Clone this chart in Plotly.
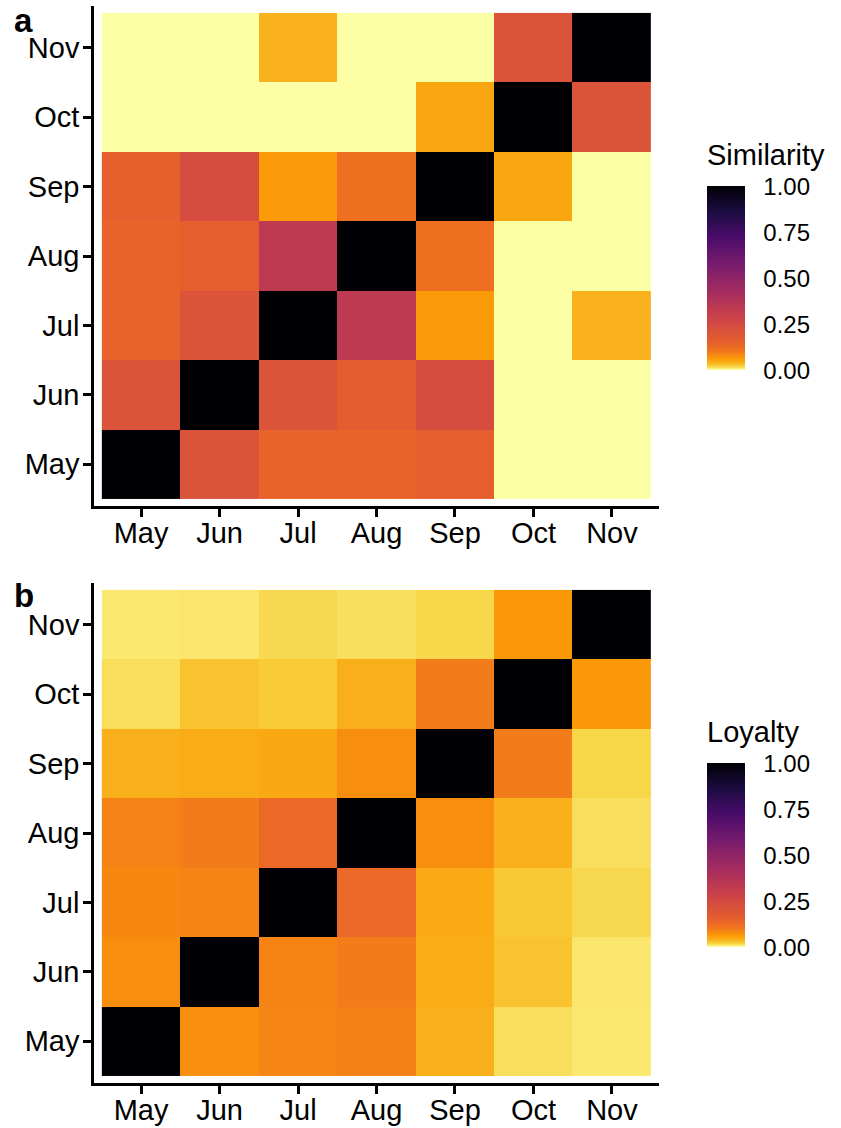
import plotly.graph_objects as go

months = ["May", "Jun", "Jul", "Aug", "Sep", "Oct", "Nov"]

# rows = y (May..Nov bottom to top), columns = x (May..Nov)
similarity = [
    [1.00, 0.207, 0.142, 0.142, 0.157, 0.00, 0.00],    # May
    [0.207, 1.00, 0.207, 0.164, 0.236, 0.00, 0.00],    # Jun
    [0.142, 0.207, 1.00, 0.333, 0.0625, 0.00, 0.0386], # Jul
    [0.142, 0.157, 0.333, 1.00, 0.117, 0.00, 0.00],    # Aug
    [0.150, 0.236, 0.0625, 0.117, 1.00, 0.050, 0.00],  # Sep
    [0.00, 0.00, 0.00, 0.00, 0.050, 1.00, 0.207],      # Oct
    [0.00, 0.00, 0.0386, 0.00, 0.00, 0.207, 1.00],     # Nov
]

loyalty = [
    [1.00, 0.075, 0.086, 0.090, 0.0415, 0.0145, 0.010],  # May
    [0.075, 1.00, 0.0875, 0.095, 0.0445, 0.029, 0.011],  # Jun
    [0.082, 0.0875, 1.00, 0.129, 0.046, 0.025, 0.017],   # Jul
    [0.089, 0.095, 0.129, 1.00, 0.0755, 0.040, 0.0145],  # Aug
    [0.041, 0.0445, 0.0475, 0.0755, 1.00, 0.095, 0.018], # Sep
    [0.0145, 0.029, 0.024, 0.041, 0.095, 1.00, 0.065],   # Oct
    [0.010, 0.011, 0.017, 0.014, 0.0175, 0.0655, 1.00],  # Nov
]

cbar_ticks = [0.0, 0.25, 0.5, 0.75, 1.0]
cbar_ticktext = ["0.00", "0.25", "0.50", "0.75", "1.00"]

# ---- colour scale: reversed inferno, stretched towards low values ----
INFERNO = ["#000004", "#1b0c41", "#4a0c6b", "#781c6d", "#a52c60",
           "#cf4446", "#ed6925", "#fb9b06", "#f7d13d", "#fcffa4"]
# value -> position along inferno (0 = black, 1 = pale yellow)
MAP_V = [0.0, 0.02, 0.04, 0.065, 0.10, 0.15, 0.25, 0.50, 0.75, 1.0]
MAP_P = [1.0, 0.89, 0.82, 0.77, 0.70, 0.64, 0.57, 0.39, 0.20, 0.0]


def _hex(c):
    return tuple(int(c[i:i + 2], 16) for i in (1, 3, 5))


def _interp(x, xs, ys):
    for i in range(len(xs) - 1):
        if xs[i] <= x <= xs[i + 1]:
            t = (x - xs[i]) / (xs[i + 1] - xs[i]) if xs[i + 1] != xs[i] else 0
            return ys[i] + t * (ys[i + 1] - ys[i])
    return ys[-1]


def inferno(p):
    n = len(INFERNO) - 1
    f = min(max(p, 0), 1) * n
    i = min(int(f), n - 1)
    t = f - i
    a, b = _hex(INFERNO[i]), _hex(INFERNO[i + 1])
    r, g, bl = (round(a[k] + t * (b[k] - a[k])) for k in range(3))
    return f"rgb({r},{g},{bl})"


colorscale = []
for k in range(201):
    v = k / 200
    colorscale.append([v, inferno(_interp(v, MAP_V, MAP_P))])

W, H = 841, 1128
FONT = "Liberation Sans, Arial, Helvetica, sans-serif"


def py(px):
    return 1 - px / H


def px_x(px):
    return px / W


# layout geometry (pixels)
x_dom = [px_x(94), px_x(659)]
a_dom = [py(506), py(6)]
b_dom = [py(1083), py(583)]
cb_left = 707
cb_thick = 38
cb_len = 184
cb_a_center = 278.5
cb_b_center = 855.5

fig = go.Figure()


def add_heat(z, xa, ya, cb_center):
    fig.add_trace(go.Heatmap(
        z=z, x=months, y=months, xaxis=xa, yaxis=ya,
        colorscale=colorscale, zmin=0, zmax=1,
        hoverongaps=False,
        colorbar=dict(
            x=px_x(cb_left), xanchor="left", xpad=0, ypad=0,
            y=py(cb_center), yanchor="middle",
            lenmode="pixels", len=cb_len, thickness=cb_thick,
            outlinewidth=0,
            tickmode="array", tickvals=cbar_ticks, ticktext=cbar_ticktext,
            ticks="outside", ticklen=14, tickwidth=1, tickcolor="rgba(0,0,0,0)",
            tickfont=dict(family=FONT, size=24, color="black"),
        ),
    ))


add_heat(similarity, "x", "y", cb_a_center)
add_heat(loyalty, "x2", "y2", cb_b_center)

axis_common = dict(
    type="category", categoryorder="array", categoryarray=months,
    range=[-0.6, 6.6], showgrid=False, zeroline=False,
    showline=True, linecolor="black", linewidth=2.5,
    ticks="outside", ticklen=8, tickwidth=2.5, tickcolor="black",
    tickfont=dict(family=FONT, size=29, color="black"),
    fixedrange=True,
)

fig.update_layout(
    width=W, height=H,
    margin=dict(l=0, r=0, t=0, b=0),
    paper_bgcolor="white", plot_bgcolor="white",
    font=dict(family=FONT, color="black"),
    xaxis=dict(domain=x_dom, anchor="y", ticklabelstandoff=-9, **axis_common),
    yaxis=dict(domain=a_dom, anchor="x", ticklabelstandoff=-2, **axis_common),
    xaxis2=dict(domain=x_dom, anchor="y2", ticklabelstandoff=-9, **axis_common),
    yaxis2=dict(domain=b_dom, anchor="x2", ticklabelstandoff=-2, **axis_common),
    showlegend=False,
)

# legend titles and panel labels
annots = [
    dict(text="Similarity", x=px_x(705), y=py(155), xanchor="left", yanchor="middle",
         font=dict(family=FONT, size=29, color="black")),
    dict(text="Loyalty", x=px_x(705), y=py(732), xanchor="left", yanchor="middle",
         font=dict(family=FONT, size=29, color="black")),
    dict(text="<b>a</b>", x=px_x(12), y=py(41), xanchor="left", yanchor="bottom",
         font=dict(family=FONT, size=33, color="black")),
    dict(text="<b>b</b>", x=px_x(12), y=py(616), xanchor="left", yanchor="bottom",
         font=dict(family=FONT, size=33, color="black")),
]
for a in annots:
    fig.add_annotation(xref="paper", yref="paper", showarrow=False, **a)

# white tick marks on both edges of the colour bars (ggplot style)
for center in (cb_a_center, cb_b_center):
    top = center - cb_len / 2
    for v in cbar_ticks:
        ypix = top + (1 - v) * cb_len
        for x0, x1 in ((cb_left, cb_left + 7), (cb_left + cb_thick - 7, cb_left + cb_thick)):
            fig.add_shape(type="line", xref="paper", yref="paper",
                          x0=px_x(x0), x1=px_x(x1),
                          y0=py(ypix), y1=py(ypix),
                          line=dict(color="white", width=1.5))

fig.write_html("out.html")
